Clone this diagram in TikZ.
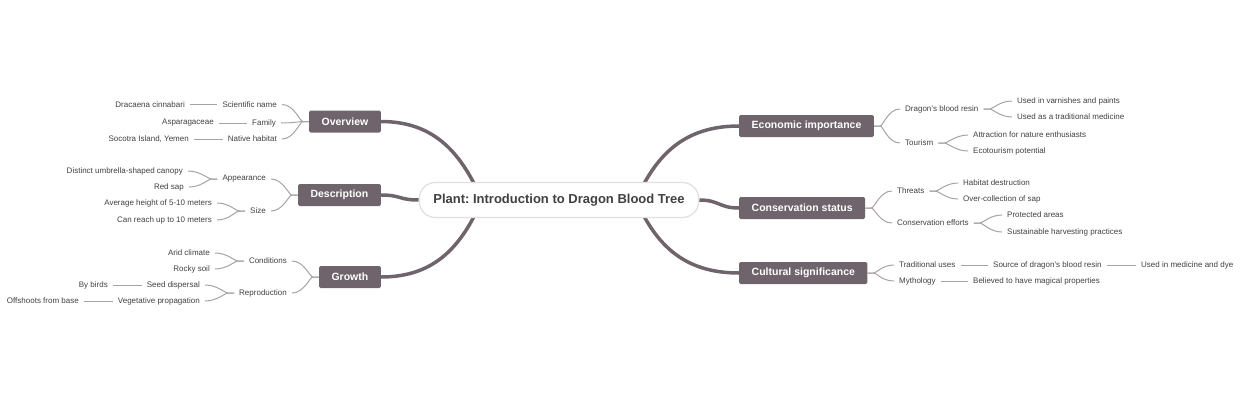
\documentclass[tikz,border=0pt]{standalone}
\usepackage{fontspec}
\setmainfont{Liberation Sans}
\usetikzlibrary{backgrounds,calc}
\definecolor{mainc}{HTML}{6F646B}
\definecolor{linec}{HTML}{A8A1A6}
\definecolor{txtc}{HTML}{404040}
\frenchspacing
\begin{document}
\begin{tikzpicture}[x=1pt,y=-1pt,
  leaf/.style={font=\fontsize{8}{9}\selectfont, text=txtc, inner xsep=5pt, inner ysep=1.5pt},
  mainbox/.style={fill=mainc, text=white, font=\fontsize{10.5}{12}\selectfont\bfseries, inner xsep=12.5pt, minimum height=22pt, rounded corners=1.5pt},
  rootbox/.style={fill=white, draw=black!12, line width=1.2pt, text=txtc, font=\fontsize{13}{15}\selectfont\bfseries, inner xsep=14pt, minimum height=35pt, rounded corners=16pt},
  thick/.style={draw=mainc, line width=3.5pt},
  br/.style={draw=linec, line width=1pt}
]
\useasboundingbox (0,0) rectangle (1240,400);

% root
\node[rootbox] (c) at (559,200) {Plant: Introduction to Dragon Blood Tree};

% main nodes
\node[mainbox, anchor=east] (ov) at (381,121.5) {Overview};
\node[mainbox, anchor=east] (de) at (381,195) {Description};
\node[mainbox, anchor=east] (gr) at (381,277) {Growth};
\node[mainbox, anchor=west] (eco) at (739,126) {Economic importance};
\node[mainbox, anchor=west] (cs) at (739,208) {Conservation status};
\node[mainbox, anchor=west] (cul) at (739,273) {Cultural significance};

% Overview
\node[leaf, anchor=east] (sci) at (282,104.5) {Scientific name};
\node[leaf, anchor=east] (fam) at (281,123) {Family};
\node[leaf, anchor=east] (nat) at (282,139) {Native habitat};
\node[leaf, anchor=east] (dra) at (190,104.5) {Dracaena cinnabari};
\node[leaf, anchor=east] (asp) at (219,123) {Asparagaceae};
\node[leaf, anchor=east] (soc) at (194,139) {Socotra Island, Yemen};

% Description
\node[leaf, anchor=east] (app) at (271,179) {Appearance};
\node[leaf, anchor=east] (siz) at (271,211) {Size};
\node[leaf, anchor=east] (umb) at (188,171) {Distinct umbrella-shaped canopy};
\node[leaf, anchor=east] (red) at (189,187) {Red sap};
\node[leaf, anchor=east] (avg) at (217,203) {Average height of 5-10 meters};
\node[leaf, anchor=east] (can) at (217,220) {Can reach up to 10 meters};

% Growth
\node[leaf, anchor=east] (cond) at (292,261) {Conditions};
\node[leaf, anchor=east] (repr) at (292,293) {Reproduction};
\node[leaf, anchor=east] (arid) at (215,253) {Arid climate};
\node[leaf, anchor=east] (rock) at (215,269) {Rocky soil};
\node[leaf, anchor=east] (seed) at (205,285) {Seed dispersal};
\node[leaf, anchor=east] (veg) at (205,301) {Vegetative propagation};
\node[leaf, anchor=east] (bird) at (113,285) {By birds};
\node[leaf, anchor=east] (off) at (84,301) {Offshoots from base};

% Economic
\node[leaf, anchor=west] (res) at (900,109) {Dragon's blood resin};
\node[leaf, anchor=west] (tour) at (900,143) {Tourism};
\node[leaf, anchor=west] (var) at (1012,101) {Used in varnishes and paints};
\node[leaf, anchor=west] (trad) at (1012,117) {Used as a traditional medicine};
\node[leaf, anchor=west] (attr) at (968,135) {Attraction for nature enthusiasts};
\node[leaf, anchor=west] (ecot) at (968,151) {Ecotourism potential};

% Conservation
\node[leaf, anchor=west] (thr) at (892,191) {Threats};
\node[leaf, anchor=west] (eff) at (892,223) {Conservation efforts};
\node[leaf, anchor=west] (hab) at (958,183) {Habitat destruction};
\node[leaf, anchor=west] (over) at (958,199) {Over-collection of sap};
\node[leaf, anchor=west] (prot) at (1002,215) {Protected areas};
\node[leaf, anchor=west] (sust) at (1002,232) {Sustainable harvesting practices};

% Cultural
\node[leaf, anchor=west] (tu) at (894,265) {Traditional uses};
\node[leaf, anchor=west] (myth) at (894,281) {Mythology};
\node[leaf, anchor=west] (src) at (988,265) {Source of dragon's blood resin};
\node[leaf, anchor=west] (med) at (1136,265) {Used in medicine and dye};
\node[leaf, anchor=west] (bel) at (968,281) {Believed to have magical properties};

\begin{scope}[on background layer]
  % thick connectors
  \coordinate (cl) at ($(c.center)+(-77,0)$);
  \coordinate (cr) at ($(c.center)+(77,0)$);
  \draw[thick] (ov.east) .. controls +(55,0) and +(-20,-45) .. (cl);
  \draw[thick] (gr.east) .. controls +(55,0) and +(-20,45) .. (cl);
  \draw[thick] (de.east) .. controls +(20,0) and +(-20,0) .. (c.west);
  \draw[thick] (eco.west) .. controls +(-55,0) and +(20,-45) .. (cr);
  \draw[thick] (cul.west) .. controls +(-55,0) and +(20,45) .. (cr);
  \draw[thick] (cs.west) .. controls +(-20,0) and +(20,0) .. (c.east);
\end{scope}

% thin forks, left
\foreach \p/\ch in {ov/sci,ov/fam,ov/nat,de/app,de/siz,app/umb,app/red,siz/avg,siz/can,gr/cond,gr/repr,cond/arid,cond/rock,repr/seed,repr/veg}{
  \draw[br] (\p.west) -- ++(-6,0) .. controls +(-3,0) and +(12,0) .. (\ch.east);
}
% thin forks, right
\foreach \p/\ch in {eco/res,eco/tour,res/var,res/trad,tour/attr,tour/ecot,cs/thr,cs/eff,thr/hab,thr/over,eff/prot,eff/sust,cul/tu,cul/myth}{
  \draw[br] (\p.east) -- ++(6,0) .. controls +(3,0) and +(-12,0) .. (\ch.west);
}
% straight links
\draw[br] (sci.west) -- (dra.east);
\draw[br] (fam.west) -- (asp.east);
\draw[br] (nat.west) -- (soc.east);
\draw[br] (seed.west) -- (bird.east);
\draw[br] (veg.west) -- (off.east);
\draw[br] (tu.east) -- (src.west);
\draw[br] (src.east) -- (med.west);
\draw[br] (myth.east) -- (bel.west);
\end{tikzpicture}
\end{document}
